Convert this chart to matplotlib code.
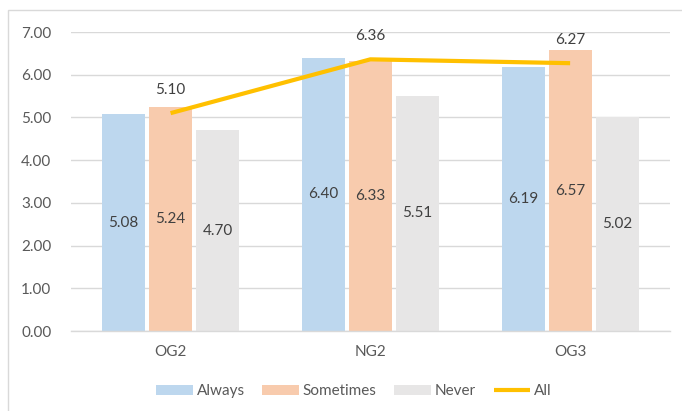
import matplotlib
matplotlib.use("Agg")
import matplotlib.pyplot as plt
from matplotlib.patches import Rectangle
import numpy as np

plt.rcParams['font.family'] = ['Lato', 'DejaVu Sans']

categories = ["OG2", "NG2", "OG3"]
always = [5.08, 6.40, 6.19]
sometimes = [5.24, 6.33, 6.57]
never = [4.70, 5.51, 5.02]
all_vals = [5.10, 6.36, 6.27]
yticks = [0, 1, 2, 3, 4, 5, 6, 7]

c_always = "#BDD7EE"
c_some = "#F8CBAD"
c_never = "#E7E6E6"
c_all = "#FFC000"
txt = "#404040"
tick_c = "#595959"
grid_c = "#D9D9D9"
fs = 11

W, H = 682, 411
fig = plt.figure(figsize=(W / 100, H / 100), dpi=100)
ax = fig.add_axes([70.7 / W, (H - 331) / H, (670 - 70.7) / W, (331 - 32) / H])

x = np.arange(len(categories))
bw = 0.215
off = 0.235
series = [(always, c_always, "Always", -off),
          (sometimes, c_some, "Sometimes", 0.0),
          (never, c_never, "Never", off)]
for vals, col, lab, o in series:
    bars = ax.bar(x + o, vals, width=bw, color=col, label=lab, zorder=2)
    for b, v in zip(bars, vals):
        ax.text(b.get_x() + b.get_width() / 2, v / 2, f"{v:.2f}",
                ha="center", va="center", fontsize=fs, color=txt, zorder=4)

ax.plot(x, all_vals, color=c_all, lw=3, label="All", zorder=3,
        solid_capstyle="butt")
for xi, v in zip(x, all_vals):
    ax.annotate(f"{v:.2f}", (xi, v), xytext=(0, 23), textcoords="offset pixels",
                ha="center", va="center", fontsize=fs, color=txt, zorder=4)

ax.set_xlim(-0.5, 2.5)
ax.set_ylim(0, 7)
ax.set_yticks(yticks)
ax.set_yticklabels([f"{t:.2f}" for t in yticks])
ax.set_xticks(x)
ax.set_xticklabels(categories)
ax.tick_params(axis="y", length=0, pad=14, labelsize=fs, labelcolor=tick_c)
ax.tick_params(axis="x", length=0, pad=10, labelsize=fs, labelcolor=tick_c)
ax.grid(axis="y", color=grid_c, lw=1, zorder=0)
ax.set_axisbelow(True)
for s in ["top", "right", "left"]:
    ax.spines[s].set_visible(False)
ax.spines["bottom"].set_color(grid_c)
ax.spines["bottom"].set_linewidth(1)

handles, labels = ax.get_legend_handles_labels()
order = [1, 2, 3, 0]
leg = fig.legend([handles[i] for i in order], [labels[i] for i in order],
                 loc="center", bbox_to_anchor=(354 / W, (H - 391) / H), ncol=4,
                 frameon=False, fontsize=fs, handlelength=2.4, handleheight=0.65,
                 handletextpad=0.25, columnspacing=1.15, labelcolor=tick_c)

fig.add_artist(Rectangle((8 / W, -0.1), 1.0, (H - 10) / H + 0.1,
                         transform=fig.transFigure, fill=False,
                         ec=grid_c, lw=1))

fig.savefig("out.png", dpi=100, facecolor="white")
